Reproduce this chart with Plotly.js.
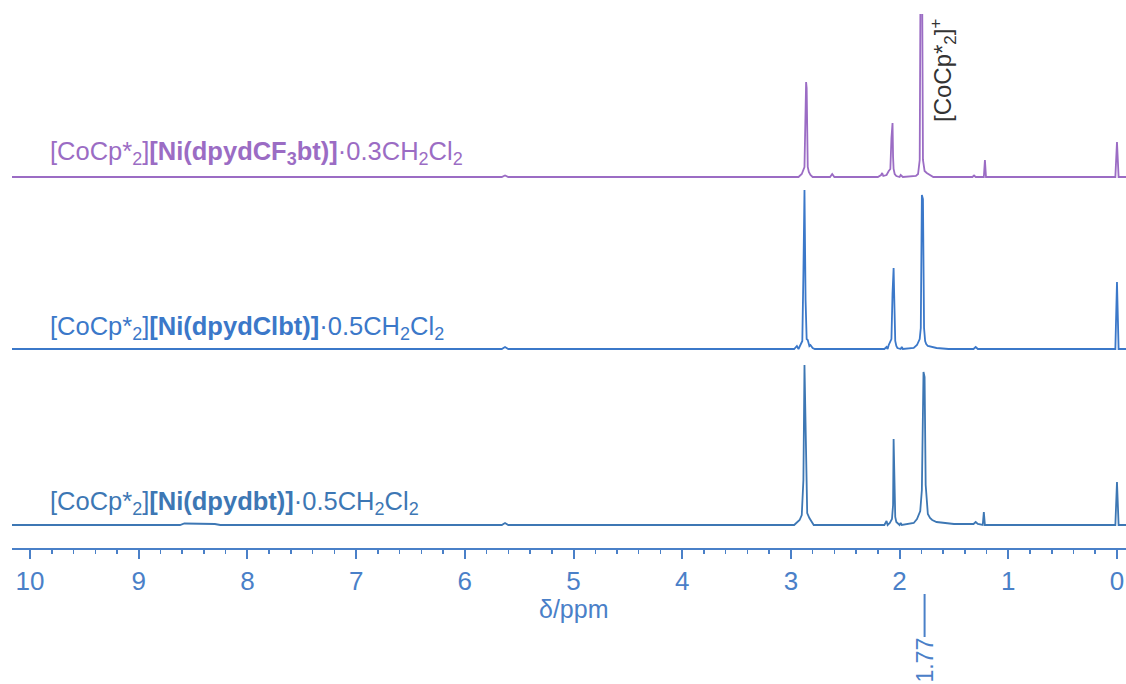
<!DOCTYPE html>
<html>
<head>
<meta charset="utf-8">
<script src="https://cdn.plot.ly/plotly-3.0.1.min.js"></script>
<style>html,body{margin:0;padding:0;background:#fff;}#chart{width:1126px;height:684px;}</style>
</head>
<body>
<div id="chart"></div>
<script>
// ---- data (chemical shift in ppm, relative intensity) ----
const ppmDpydbt = [10.17, 8.62, 8.58, 8.45, 8.30, 8.25, 5.66, 5.63, 5.60, 2.97, 2.94, 2.92, 2.90, 2.885, 2.875, 2.870, 2.860, 2.85, 2.83, 2.81, 2.79, 2.14, 2.12, 2.11, 2.09, 2.07, 2.06, 2.055, 2.050, 2.045, 2.04, 2.03, 2.00, 1.99, 1.98, 1.87, 1.84, 1.81, 1.795, 1.780, 1.770, 1.760, 1.75, 1.74, 1.72, 1.70, 1.66, 1.60, 1.50, 1.32, 1.30, 1.28, 1.235, 1.225, 1.215, 0.015, 0.000, -0.015, -0.09];
const intDpydbt = [0, 0, 1.5, 1.5, 1, 0, 0, 2, 0, 0, 3, 5, 10, 45, 160, 130, 45, 12, 7, 3, 0, 0, 4, 0, 2, 6, 20, 86, 55, 24, 8, 3, 0, 2, 0, 2, 6, 14, 35, 153, 148, 40, 18, 11, 7, 5, 3, 2, 1, 1, 3, 1, 0, 13, 0, 0, 43, 0, 0];

const ppmDpydClbt = [10.17, 5.66, 5.63, 5.60, 2.97, 2.945, 2.93, 2.91, 2.895, 2.885, 2.875, 2.865, 2.855, 2.845, 2.83, 2.82, 2.80, 2.78, 2.14, 2.12, 2.11, 2.10, 2.075, 2.065, 2.055, 2.050, 2.045, 2.04, 2.03, 2.02, 1.99, 1.98, 1.97, 1.87, 1.84, 1.815, 1.805, 1.795, 1.785, 1.775, 1.765, 1.755, 1.74, 1.71, 1.66, 1.55, 1.32, 1.30, 1.28, 0.015, 0.000, -0.015, -0.09];
const intDpydClbt = [0, 0, 2, 0, 0, 3, 0, 4, 8, 76, 159, 49, 10, 9, 3, 4, 1, 0, 0, 2, 0, 4, 10, 56, 81, 55, 27, 8, 3, 1, 0, 2, 0, 1, 4, 10, 21, 154, 150, 21, 8, 5, 3, 2, 1, 0, 0, 2, 0, 0, 67, 0, 0];

const ppmDpydCF3bt = [10.17, 5.66, 5.63, 5.60, 2.93, 2.90, 2.875, 2.860, 2.855, 2.845, 2.835, 2.82, 2.80, 2.64, 2.62, 2.60, 2.20, 2.17, 2.16, 2.15, 2.12, 2.10, 2.085, 2.075, 2.065, 2.060, 2.055, 2.045, 2.03, 2.00, 1.99, 1.97, 1.85, 1.83, 1.815, 1.805, 1.795, 1.785, 1.77, 1.75, 1.72, 1.69, 1.33, 1.315, 1.30, 1.225, 1.215, 1.205, 0.015, 0.000, -0.015, -0.09];
const intDpydCF3bt = [0, 0, 1.5, 0, 0, 3, 10, 95, 89, 10, 5, 2, 0, 0, 3, 0, 0, 2, 4, 1, 2, 6, 8, 39, 54, 20, 8, 3, 1, 0, 2, 0, 1, 3, 17, 260, 250, 17, 6, 4, 2, 0, 0, 1.5, 0, 0, 17, 0, 0, 35, 0, 0];

const tickVals = [0, 1, 2, 3, 4, 5, 6, 7, 8, 9, 10];
const tickText = ['0', '1', '2', '3', '4', '5', '6', '7', '8', '9', '10'];
const SUB = s => '<sub><span style="font-size:18px">' + s + '</span></sub>';
const SUP = s => '<sup><span style="font-size:17px">' + s + '</span></sup>';
const labelDpydbt = '[CoCp*' + SUB('2') + ']<b>[Ni(dpydbt)]</b>·0.5CH' + SUB('2') + 'Cl' + SUB('2');
const labelDpydClbt = '[CoCp*' + SUB('2') + ']<b>[Ni(dpydClbt)]</b>·0.5CH' + SUB('2') + 'Cl' + SUB('2');
const labelDpydCF3bt = '[CoCp*' + SUB('2') + ']<b>[Ni(dpydCF' + SUB('3') + 'bt)]</b>·0.3CH' + SUB('2') + 'Cl' + SUB('2');
const cationLabel = '[CoCp*<sub><span style="font-size:17px">2</span></sub>]' + SUP('+');
const axisLabel = 'δ/ppm';
const markPpm = 1.77;
const markText = '1.77';

// ---- layout helpers ----
const W = 1126, H = 684;
const M = {l: 12, r: 0, t: 14, b: 136};
const plotTop = M.t, plotBottom = H - M.b, plotH = plotBottom - plotTop;
const baselinePx = [525, 349, 177];         // bottom, middle, top spectrum
function yRange(p) { return [-(plotBottom - p), p - plotTop]; }
function paperY(px) { return (plotBottom - px) / plotH; }
function paperX(px) { return (px - M.l) / (W - M.l - M.r); }

const cBottom = '#3d77b4', cMid = '#3b78c9', cTop = '#9b6cc4', cAxis = '#4a80c8';
const font = 'Liberation Sans, Arial, sans-serif';

const traces = [
  {x: ppmDpydbt, y: intDpydbt, yaxis: 'y', type: 'scatter', mode: 'lines', line: {color: cBottom, width: 1.8}, hoverinfo: 'skip'},
  {x: ppmDpydClbt, y: intDpydClbt, yaxis: 'y2', type: 'scatter', mode: 'lines', line: {color: cMid, width: 1.8}, hoverinfo: 'skip'},
  {x: ppmDpydCF3bt, y: intDpydCF3bt, yaxis: 'y3', type: 'scatter', mode: 'lines', line: {color: cTop, width: 1.8}, hoverinfo: 'skip'}
];

const hiddenY = {visible: false, fixedrange: true, zeroline: false, showgrid: false};

const layout = {
  width: W, height: H,
  margin: M,
  paper_bgcolor: '#ffffff', plot_bgcolor: '#ffffff',
  showlegend: false,
  font: {family: font},
  xaxis: {
    range: [10.166, -0.083],
    tickvals: tickVals, ticktext: tickText,
    ticks: 'outside', ticklen: 9, tickwidth: 2, tickcolor: cAxis,
    showline: true, linecolor: cAxis, linewidth: 2.2,
    showgrid: false, zeroline: false,
    tickfont: {family: font, size: 26, color: cAxis},
    minor: {dtick: 0.2, ticks: 'outside', ticklen: 4, tickwidth: 1.5, tickcolor: cAxis, showgrid: false}
  },
  yaxis: Object.assign({range: yRange(baselinePx[0])}, hiddenY),
  yaxis2: Object.assign({range: yRange(baselinePx[1]), overlaying: 'y'}, hiddenY),
  yaxis3: Object.assign({range: yRange(baselinePx[2]), overlaying: 'y'}, hiddenY),
  shapes: [
    {type: 'line', xref: 'x', yref: 'paper', x0: markPpm, x1: markPpm, y0: paperY(594), y1: paperY(637), line: {color: cAxis, width: 2}}
  ],
  annotations: [
    {xref: 'paper', yref: 'paper', x: paperX(48), y: paperY(503), xanchor: 'left', yanchor: 'middle', showarrow: false, text: labelDpydbt, font: {family: font, size: 25.5, color: cBottom}},
    {xref: 'paper', yref: 'paper', x: paperX(48), y: paperY(328), xanchor: 'left', yanchor: 'middle', showarrow: false, text: labelDpydClbt, font: {family: font, size: 25.5, color: cMid}},
    {xref: 'paper', yref: 'paper', x: paperX(48), y: paperY(153), xanchor: 'left', yanchor: 'middle', showarrow: false, text: labelDpydCF3bt, font: {family: font, size: 25.5, color: cTop}},
    {xref: 'paper', yref: 'paper', x: paperX(943), y: paperY(70), xanchor: 'center', yanchor: 'middle', showarrow: false, textangle: -90, text: cationLabel, font: {family: font, size: 24, color: '#333333'}},
    {xref: 'paper', yref: 'paper', x: paperX(574), y: paperY(609), xanchor: 'center', yanchor: 'middle', showarrow: false, text: axisLabel, font: {family: font, size: 25, color: cAxis}},
    {xref: 'x', yref: 'paper', x: markPpm, y: paperY(660), xanchor: 'center', yanchor: 'middle', showarrow: false, textangle: -90, text: markText, font: {family: font, size: 23, color: cAxis}}
  ]
};

Plotly.newPlot('chart', traces, layout, {staticPlot: true, displayModeBar: false});
</script>
</body>
</html>
